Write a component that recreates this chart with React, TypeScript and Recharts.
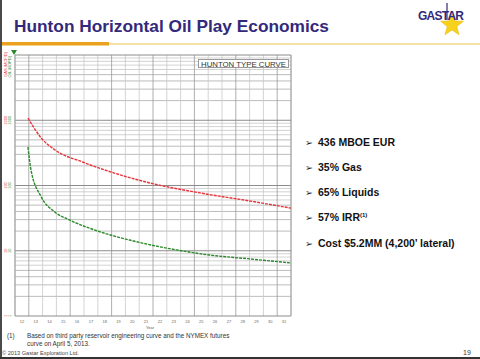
import { LineChart, Line, XAxis, YAxis, ReferenceLine } from "recharts";

// x axis: one cell per year label
const years = [12, 13, 14, 15, 16, 17, 18, 19, 20, 21, 22, 23, 24, 25, 26, 27, 28, 29, 30, 31];
const decades = [1, 10, 100, 1000];

// gas rate (MCF/D), red
const gasYear = [12.44, 13.4, 14.4, 16.4, 18.7, 21.3, 24.9, 28.5, 31.5];
const gasRate = [1082, 535, 350, 229, 155, 109, 77, 58, 45];

// oil rate (BOPD), green
const oilYear = [12.44, 12.66, 13.4, 14.4, 15.4, 17.7, 19.8, 23.2, 25.6, 28.5, 31.5];
const oilRate = [389, 173, 67, 39, 30, 19.4, 14.6, 10.3, 8.6, 7.5, 6.5];

const bullets = ["436 MBOE EUR", "35% Gas", "65% Liquids", "57% IRR", "Cost $5.2MM (4,200’ lateral)"];

const gasData = gasYear.map((x, i) => ({ x, gas: gasRate[i] }));
const oilData = oilYear.map((x, i) => ({ x, oil: oilRate[i] }));

const logLines = decades.flatMap((d) => [2, 3, 4, 5, 6, 7, 8, 9].map((m) => ({ v: m * d, m })));
const cellEdges = [...years.map((y) => y - 0.5), 31.5];

const FONT = "'Liberation Sans', Arial, sans-serif";
const RED = "#e8343c";
const GREEN = "#2c8a2c";

const YTick = (props: any) => {
  const { y, payload } = props;
  return (
    <g fontFamily={FONT} fontSize={4}>
      <text transform={`translate(7,${y}) rotate(-90)`} textAnchor="middle" fill={RED}>
        {payload.value}
      </text>
      <text transform={`translate(11,${y}) rotate(-90)`} textAnchor="middle" fill={GREEN}>
        {payload.value}
      </text>
    </g>
  );
};

const XTick = (props: any) => {
  const { x, payload } = props;
  return (
    <text x={x} y={323} textAnchor="middle" fontFamily={FONT} fontSize={4} fill="#666">
      {payload.value}
    </text>
  );
};

function Star({ cx, cy, r }: { cx: number; cy: number; r: number }) {
  const pts: string[] = [];
  for (let i = 0; i < 10; i++) {
    const rad = i % 2 === 0 ? r : r * 0.42;
    const a = -Math.PI / 2 + (i * Math.PI) / 5;
    pts.push(`${cx + rad * Math.cos(a)},${cy + rad * Math.sin(a)}`);
  }
  return <polygon points={pts.join(" ")} fill="#f7d21c" stroke="#e0b000" strokeWidth={0.5} />;
}

export default function App() {
  return (
    <div style={{ position: "absolute", left: 0, top: 0, width: 480, height: 359, background: "#fff", overflow: "hidden", fontFamily: FONT }}>
      <svg width={480} height={359} style={{ position: "absolute", left: 0, top: 0 }}>
        <rect x={0} y={0} width={2} height={359} fill="#4a4a4a" />
        <rect x={0} y={357} width={480} height={2} fill="#333" />
        <text x={14} y={32} fontSize={17.3} fontWeight="bold" fill="#33297a" fontFamily={FONT}>
          Hunton Horizontal Oil Play Economics
        </text>
        <rect x={109} y={43} width={371} height={2} fill="#f6e2a6" />
        <rect x={2} y={42} width={107} height={3.5} fill="#e9a11e" />
        {/* logo */}
        <Star cx={452} cy={25} r={12} />
        <line x1={447} y1={3} x2={447} y2={20} stroke="#33297a" strokeWidth={1.2} />
        <text x={418} y={20} fontSize={12} fontWeight="bold" fill="#33297a" textLength={46} fontFamily={FONT}>
          GASTAR
        </text>
        {/* axis captions */}
        <polygon points="11,50 17,50 14,55" fill={GREEN} />
        <text transform="translate(7,52) rotate(-90)" textAnchor="end" fontSize={4} fill={RED} fontFamily={FONT}>
          GAS (MCF/D)
        </text>
        <text transform="translate(11,56) rotate(-90)" textAnchor="end" fontSize={4} fill={GREEN} fontFamily={FONT}>
          OIL (BOPD)
        </text>
        <text x={150} y={328.5} textAnchor="middle" fontSize={4} fill="#555" fontFamily={FONT}>
          Year
        </text>
        {/* bullets */}
        {bullets.map((b, i) => (
          <g key={b}>
            <text x={305} y={145.5 + i * 25.3} fontSize={9.5} fontWeight="bold" fill="#222" fontFamily="'DejaVu Sans', sans-serif">
              ➢
            </text>
            <text x={318} y={145.5 + i * 25.3} fontSize={10.5} fontWeight="bold" fill="#111" fontFamily={FONT}>
              {b}
              {i === 3 && (
                <tspan fontSize={6} dy={-4}>
                  (1)
                </tspan>
              )}
            </text>
          </g>
        ))}
        {/* footnotes */}
        <text x={7} y={338} fontSize={6.3} fill="#333" fontFamily={FONT}>
          (1)
        </text>
        <text x={27} y={338} fontSize={6.3} fill="#333" fontFamily={FONT}>
          Based on third party reservoir engineering curve and the NYMEX futures
        </text>
        <text x={27} y={346} fontSize={6.3} fill="#333" fontFamily={FONT}>
          curve on April 5, 2013.
        </text>
        <text x={2} y={355} fontSize={5.6} fill="#444" fontFamily={FONT}>
          © 2013 Gastar Exploration Ltd.
        </text>
        <text x={463} y={355} fontSize={7} fill="#333" fontFamily={FONT}>
          19
        </text>
      </svg>

      <div style={{ position: "absolute", left: 0, top: 0 }}>
        <LineChart width={300} height={335} margin={{ top: 55, right: 9, left: 0, bottom: 0 }}>
          <XAxis
            dataKey="x"
            type="number"
            domain={[11.5, 31.5]}
            ticks={years}
            interval={0}
            allowDataOverflow
            axisLine={false}
            tickLine={false}
            height={19}
            tick={<XTick />}
          />
          <YAxis
            type="number"
            scale="log"
            domain={[1, 10000]}
            ticks={decades}
            interval={0}
            allowDataOverflow
            axisLine={false}
            tickLine={false}
            width={15}
            tick={<YTick />}
          />
          {logLines.map((l) => (
            <ReferenceLine
              key={"h" + l.v}
              y={l.v}
              stroke={l.m <= 5 ? "#ababab" : "#c6c6c6"}
              strokeWidth={0.8}
            />
          ))}
          {cellEdges.map((e, i) => (
            <ReferenceLine
              key={"v" + e}
              x={e}
              stroke={i % 3 === 1 ? "#999" : "#c8c8c8"}
              strokeWidth={0.8}
            />
          ))}
          {[1, 10, 100, 1000, 10000].map((d) => (
            <ReferenceLine key={"d" + d} y={d} stroke="#8c8c8c" strokeWidth={1} />
          ))}
          <ReferenceLine x={11.5} stroke="#999" />
          <ReferenceLine x={31.5} stroke="#999" />
          <Line
            data={gasData}
            dataKey="gas"
            type="monotone"
            stroke={RED}
            strokeWidth={1.4}
            strokeDasharray="3 1"
            dot={false}
            isAnimationActive={false}
          />
          <Line
            data={oilData}
            dataKey="oil"
            type="monotone"
            stroke={GREEN}
            strokeWidth={1.4}
            strokeDasharray="3 1"
            dot={false}
            isAnimationActive={false}
          />
        </LineChart>
      </div>

      <div
        style={{
          position: "absolute",
          left: 198,
          top: 59,
          width: 91,
          height: 9,
          border: "1px solid #999",
          background: "#fff",
          fontSize: 7.8,
          lineHeight: "9px",
          color: "#333",
          paddingLeft: 2,
          boxSizing: "border-box",
          whiteSpace: "nowrap",
        }}
      >
        HUNTON TYPE CURVE
      </div>
    </div>
  );
}
